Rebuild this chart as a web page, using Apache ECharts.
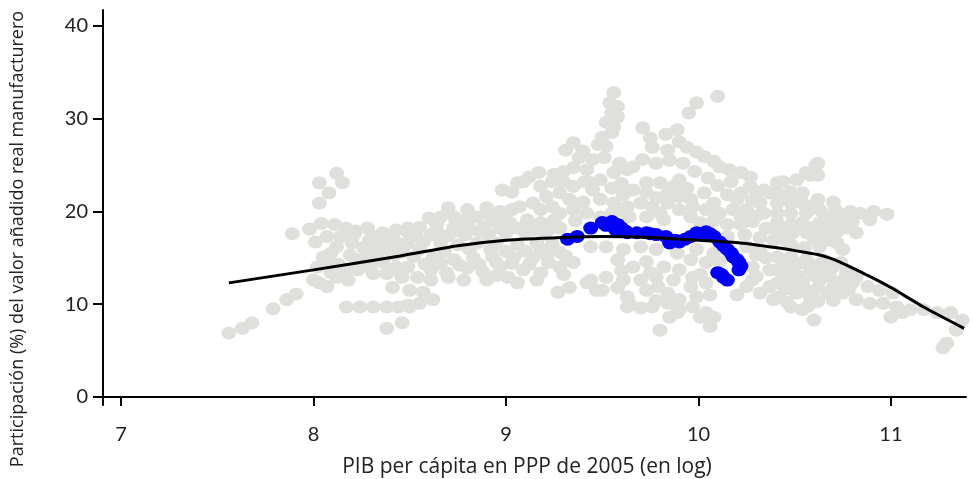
<!DOCTYPE html>
<html>
<head>
<meta charset="utf-8">
<script src="https://cdn.jsdelivr.net/npm/echarts@6/dist/echarts.min.js"></script>
<style>
    html, body { margin: 0; padding: 0; background: #fff; }
    #chart { width: 973px; height: 479px; }
</style>
</head>
<body>
<div id="chart"></div>
<script>
// tick labels
var xTicks = [7, 8, 9, 10, 11];
var yTicks = [0, 10, 20, 30, 40];

// todos los países (gris)
var greyPoints = [
    [7.56, 6.9], [7.63, 7.4], [7.68, 8.0], [7.79, 9.5], [7.86, 10.5], [7.91, 11.1], [8.00, 12.6], [8.03, 12.3], [8.07, 11.9],
    [7.89, 17.6], [7.98, 18.1], [8.04, 18.7], [8.11, 18.6], [8.17, 18.2], [8.28, 18.2], [8.36, 17.7], [8.43, 18.0], [8.49, 17.8],
    [8.01, 16.7], [8.07, 17.3], [8.14, 17.3], [8.21, 17.5], [8.29, 16.9], [8.36, 16.6], [8.43, 16.7],
    [8.03, 23.1], [8.12, 24.1], [8.15, 23.1], [8.08, 22.0], [8.03, 20.9],
    [8.05, 15.1], [8.07, 14.5], [8.19, 15.3], [8.23, 14.8], [8.28, 15.6], [8.33, 16.1], [8.38, 15.9], [8.09, 15.5],
    [8.02, 14.0], [8.09, 13.4], [8.12, 12.9], [8.17, 13.7], [8.23, 13.7], [8.29, 14.0], [8.36, 14.5], [8.43, 14.0], [8.46, 12.9], [8.41, 11.8],
    [8.17, 9.7], [8.24, 9.7], [8.31, 9.7], [8.38, 9.7], [8.44, 9.7], [8.50, 9.7], [8.38, 7.4], [8.46, 8.0],
    [8.12, 16.2], [8.20, 16.6], [8.26, 16.1], [8.32, 17.3], [8.40, 17.3], [8.47, 16.2], [8.13, 14.3], [8.26, 14.5], [8.33, 15.0],
    [8.42, 15.3], [8.46, 15.6], [8.22, 17.9], [8.31, 13.3], [8.38, 13.3], [8.44, 13.6], [8.18, 12.6],
    [9.35, 27.4], [9.31, 26.6], [9.38, 25.8], [9.45, 25.6], [9.30, 24.3], [9.35, 24.7], [9.42, 24.5], [9.17, 24.2], [9.09, 23.2], [9.03, 22.1],
    [9.18, 22.7], [9.24, 23.2], [9.30, 23.2], [9.35, 22.7], [9.41, 23.2], [9.45, 22.3], [9.21, 21.6], [9.28, 22.0], [9.33, 21.3], [9.40, 21.0],
    [9.07, 20.5], [9.14, 20.9], [9.18, 20.2], [9.24, 20.5], [9.28, 19.8], [9.35, 20.2], [9.42, 19.8],
    [8.70, 20.4], [8.80, 20.2], [8.90, 20.4], [8.97, 20.0], [9.03, 20.2], [8.98, 22.3], [9.06, 23.1], [9.12, 23.7],
    [8.60, 19.3], [8.66, 19.4], [8.73, 19.4], [8.79, 19.1], [8.85, 19.4], [8.92, 19.4], [9.00, 19.1],
    [8.49, 18.2], [8.55, 18.3], [8.64, 18.6], [8.73, 18.3], [8.80, 18.6], [8.88, 18.3], [8.95, 18.8], [9.02, 18.8], [9.11, 19.1], [9.18, 18.8],
    [9.27, 18.3], [9.14, 18.0], [9.28, 18.2], [9.36, 19.0], [9.25, 19.1],
    [8.53, 17.4], [8.61, 17.5], [8.70, 17.4], [8.79, 17.5], [8.91, 17.5], [9.00, 17.7], [9.10, 17.7], [9.20, 17.5],
    [8.64, 17.9], [8.76, 17.9], [8.86, 17.9], [8.97, 18.2], [9.06, 18.2], [9.22, 18.0],
    [8.49, 16.6], [8.57, 16.7], [8.66, 16.6], [8.75, 16.4], [8.85, 16.6], [8.95, 16.6], [9.06, 16.4], [9.16, 16.6], [9.24, 16.4], [9.44, 16.2],
    [8.55, 15.9], [8.68, 15.7], [8.81, 15.9], [8.92, 15.9], [9.00, 15.7], [9.10, 15.7], [9.18, 15.9], [9.28, 15.6],
    [8.52, 15.1], [8.62, 15.0], [8.73, 14.8], [8.83, 15.0], [8.93, 15.1], [9.04, 15.0], [9.14, 15.0], [9.21, 15.3], [9.31, 15.2],
    [8.58, 14.3], [8.66, 14.4], [8.76, 14.2], [8.86, 14.3], [8.95, 14.5], [9.03, 14.4], [9.12, 14.3], [9.22, 14.5], [9.35, 14.5],
    [8.49, 14.0], [8.61, 13.7], [8.69, 13.4], [8.80, 13.9], [8.88, 13.5], [8.97, 14.0], [9.09, 13.7], [9.18, 13.4], [9.28, 14.0],
    [8.90, 12.6], [9.01, 12.9], [9.06, 12.3], [9.16, 12.6], [8.54, 12.9], [8.61, 12.6], [8.78, 12.6], [8.70, 12.9], [8.95, 13.1], [9.30, 13.2],
    [9.27, 11.3], [9.33, 11.8], [9.42, 12.3], [9.47, 11.5], [8.57, 11.3], [8.62, 10.5], [8.55, 10.1], [8.49, 9.9], [8.50, 11.5],
    [9.56, 32.8], [9.54, 31.7], [9.58, 31.3], [9.55, 30.6], [9.58, 30.2], [9.52, 29.6], [9.56, 29.1], [9.55, 28.5], [9.50, 28.0], [9.52, 27.0], [9.48, 27.2],
    [10.10, 32.4], [9.99, 31.7], [9.95, 30.6],
    [9.71, 29.0], [9.75, 27.9], [9.83, 28.3], [9.89, 28.8], [9.90, 27.5], [9.76, 26.9], [9.84, 26.6], [9.94, 26.9], [9.99, 26.4],
    [10.03, 25.9], [10.08, 25.4], [10.11, 24.8], [10.16, 24.5], [10.22, 24.2], [10.27, 23.7], [9.40, 26.5], [9.25, 24.0],
    [9.71, 25.6], [9.66, 24.8], [9.59, 25.2], [9.51, 25.8], [9.56, 24.2], [9.63, 24.5], [9.49, 23.4], [9.44, 23.1],
    [9.90, 23.4], [9.94, 22.5], [9.87, 22.7], [9.80, 23.1], [9.73, 23.1], [9.66, 22.3], [9.61, 21.8], [9.73, 22.0], [9.84, 22.0], [9.90, 21.6],
    [9.55, 22.5], [9.60, 23.0], [9.78, 21.5], [9.96, 21.3], [10.03, 22.0], [10.10, 22.8], [10.17, 23.2], [10.05, 23.6], [9.98, 24.3],
    [9.92, 25.2], [9.85, 25.5], [9.78, 25.2],
    [10.27, 22.7], [10.22, 22.0], [10.15, 21.8], [10.08, 20.9], [10.11, 19.8], [10.20, 21.3], [10.25, 20.2], [10.32, 20.9], [10.37, 22.0], [10.41, 23.1], [10.34, 22.3],
    [10.30, 22.0], [10.28, 21.2], [10.18, 20.2], [10.22, 19.4], [10.30, 19.5],
    [9.49, 21.3], [9.56, 20.9], [9.63, 20.5], [9.70, 20.9], [9.76, 20.5], [9.84, 20.9], [9.90, 20.2], [9.97, 20.5], [10.04, 20.2],
    [9.49, 19.4], [9.64, 19.4], [9.73, 19.4], [9.82, 19.1], [9.96, 19.4], [10.01, 18.8], [9.55, 19.8], [9.60, 20.1], [9.80, 19.8], [10.08, 19.0],
    [10.15, 18.6], [10.22, 18.6], [10.28, 18.9], [10.35, 18.2], [10.15, 17.3], [10.24, 17.5], [10.32, 17.2],
    [9.52, 16.2], [9.61, 15.9], [9.70, 16.2], [9.78, 15.9], [9.89, 15.5], [9.99, 15.9], [10.08, 15.5], [10.25, 16.2], [10.32, 15.9], [10.39, 16.9],
    [9.58, 14.8], [9.66, 14.0], [9.73, 14.6], [9.82, 14.0], [9.96, 14.8], [10.04, 14.5], [10.11, 14.6], [10.28, 14.0], [10.37, 13.7],
    [10.30, 15.3], [10.46, 14.0], [10.01, 13.2], [9.60, 13.6], [9.75, 13.4], [9.90, 13.7], [10.30, 13.0],
    [9.44, 12.6], [9.52, 12.9], [9.61, 12.6], [9.70, 12.6], [9.78, 12.9], [9.87, 12.6], [9.97, 12.9], [10.04, 12.3], [10.28, 12.6], [10.37, 11.9],
    [9.50, 11.5], [9.63, 10.8], [9.73, 11.5], [9.84, 11.2], [9.90, 10.5], [9.99, 10.8], [9.96, 11.9], [10.32, 11.2], [10.39, 10.5],
    [10.25, 11.9], [10.20, 11.0], [9.58, 11.8], [9.79, 11.9], [10.06, 11.0], [9.78, 10.4],
    [9.70, 9.6], [9.76, 9.7], [9.63, 9.7], [9.84, 10.1], [9.90, 9.4], [9.97, 9.7], [10.04, 9.1], [10.08, 8.6], [9.85, 8.6], [10.01, 8.6],
    [9.64, 10.1], [9.89, 9.1], [9.80, 7.2], [10.06, 7.6],
    [10.61, 25.0], [10.58, 23.9], [10.51, 23.4], [10.44, 23.2], [10.62, 25.2], [10.56, 24.2], [10.62, 23.9],
    [10.41, 22.0], [10.48, 22.1], [10.54, 22.0], [10.41, 20.9], [10.48, 20.9], [10.54, 20.9], [10.62, 21.3], [10.70, 21.0],
    [10.45, 21.5], [10.52, 21.5], [10.58, 20.5], [10.66, 19.5], [10.75, 19.6],
    [10.41, 19.8], [10.48, 19.8], [10.56, 19.8], [10.63, 20.2], [10.71, 20.2], [10.79, 20.0], [10.84, 19.8], [10.91, 20.0], [10.98, 19.7],
    [10.41, 18.8], [10.48, 18.6], [10.54, 18.8], [10.63, 18.8], [10.72, 19.1], [10.80, 18.9], [10.89, 19.1],
    [10.45, 18.2], [10.52, 18.2], [10.60, 18.3], [10.68, 18.2], [10.76, 18.2],
    [10.65, 17.7], [10.72, 17.8], [10.82, 17.7], [10.41, 17.7], [10.49, 17.7], [10.56, 17.7],
    [10.45, 16.9], [10.60, 17.0], [10.68, 16.9],
    [10.72, 16.6], [10.75, 15.9], [10.63, 16.2], [10.48, 16.4], [10.55, 16.1], [10.34, 19.8], [10.35, 15.0],
    [10.41, 15.1], [10.48, 15.1], [10.56, 14.8], [10.65, 14.8], [10.74, 14.5],
    [10.45, 14.4], [10.52, 14.4], [10.62, 14.2], [10.70, 14.0],
    [10.41, 13.7], [10.49, 13.7], [10.58, 13.7], [10.67, 13.7], [10.77, 13.4], [10.82, 12.9],
    [10.45, 13.0], [10.52, 13.0], [10.60, 13.1], [10.68, 13.0], [10.76, 12.8],
    [10.41, 12.3], [10.48, 12.3], [10.54, 12.3], [10.63, 12.6], [10.72, 12.3], [10.80, 12.3], [10.88, 11.9], [10.94, 11.5], [11.01, 11.2],
    [10.45, 11.6], [10.55, 11.7], [10.62, 11.7], [10.70, 11.8], [10.78, 11.6],
    [10.42, 10.8], [10.51, 11.2], [10.58, 10.8], [10.67, 11.2], [10.75, 11.2], [10.82, 10.5], [10.89, 10.1], [10.96, 10.1], [11.03, 9.7],
    [10.46, 10.2], [10.62, 10.3], [10.70, 10.4], [10.48, 9.7], [10.57, 9.8],
    [11.10, 9.4], [11.17, 9.4], [11.24, 9.1], [11.31, 9.1], [11.37, 8.3], [10.54, 9.4], [10.60, 8.3], [11.00, 8.6], [11.06, 9.1],
    [11.34, 7.2], [11.29, 5.8], [11.27, 5.3]
];

// país destacado (azul)
var bluePoints = [
    [9.32, 17.0], [9.37, 17.3], [9.44, 18.2], [9.50, 18.8], [9.52, 18.5], [9.55, 18.9], [9.58, 18.6], [9.57, 18.0], [9.60, 18.2], [9.62, 17.9],
    [9.63, 17.7], [9.68, 17.7], [9.73, 17.7], [9.75, 17.6], [9.78, 17.5], [9.83, 17.3], [9.85, 16.6], [9.88, 16.9], [9.90, 16.7], [9.93, 17.0],
    [9.96, 17.3], [9.99, 17.7], [10.02, 17.5], [10.04, 17.8], [10.06, 17.6], [10.08, 17.3], [10.11, 16.7], [10.13, 16.3], [10.15, 15.9],
    [10.17, 15.5], [10.18, 15.1], [10.20, 14.8], [10.21, 14.5], [10.22, 14.1], [10.21, 13.7],
    [10.10, 13.4], [10.12, 13.2], [10.13, 12.9], [10.15, 12.6]
];

// curva ajustada
var fitLine = [
    [7.56, 12.3], [8.0, 13.7], [8.45, 15.2], [8.75, 16.3], [9.0, 16.9], [9.3, 17.2], [9.5, 17.3], [9.75, 17.2],
    [10.0, 16.9], [10.22, 16.6], [10.4, 16.1], [10.55, 15.6], [10.63, 15.3], [10.68, 15.0], [10.73, 14.6],
    [10.78, 14.1], [10.84, 13.5], [10.9, 12.9], [11.0, 11.8], [11.17, 9.7], [11.38, 7.4]
];

var myChart = echarts.init(document.getElementById('chart'));

var option = {
    animation: false,
    grid: { left: 103, right: 7, top: 10, bottom: 74 },
    xAxis: {
        type: 'value',
        min: 6.906,
        max: 11.39,
        splitLine: { show: false },
        axisLine: { lineStyle: { color: '#000', width: 2 } },
        axisTick: { customValues: xTicks, length: 9, lineStyle: { color: '#000', width: 2 } },
        axisLabel: {
            customValues: xTicks,
            margin: 20,
            fontFamily: 'Lato',
            fontSize: 20,
            color: '#222'
        }
    },
    yAxis: {
        type: 'value',
        min: -0.86,
        max: 41.7,
        splitLine: { show: false },
        axisLine: { show: true, lineStyle: { color: '#000', width: 2 } },
        axisTick: { show: true, customValues: yTicks, length: 10, lineStyle: { color: '#000', width: 2 } },
        axisLabel: {
            customValues: yTicks,
            margin: 15,
            fontFamily: 'Lato',
            fontSize: 20,
            color: '#222'
        }
    },
    graphic: [
        {
            type: 'text',
            x: 18,
            y: 239,
            rotation: Math.PI / 2,
            style: {
                text: 'Participación (%) del valor añadido real manufacturero',
                fontFamily: 'Open Sans',
                fontSize: 18,
                fill: '#222',
                textAlign: 'center',
                textVerticalAlign: 'middle'
            }
        },
        {
            type: 'text',
            x: 527,
            y: 467,
            style: {
                text: 'PIB per cápita en PPP de 2005 (en log)',
                fontFamily: 'Open Sans',
                fontSize: 21,
                fill: '#222',
                textAlign: 'center',
                textVerticalAlign: 'middle'
            }
        }
    ],
    series: [
        {
            type: 'scatter',
            data: greyPoints,
            symbolSize: [15, 13],
            itemStyle: { color: '#dfe0dc', opacity: 1 },
            silent: true
        },
        {
            type: 'scatter',
            data: bluePoints,
            symbolSize: [15, 13],
            itemStyle: { color: '#0000f5', opacity: 1 },
            silent: true
        },
        {
            type: 'line',
            data: fitLine,
            smooth: 0.25,
            showSymbol: false,
            symbol: 'none',
            lineStyle: { color: '#000', width: 3 },
            silent: true
        }
    ]
};

myChart.setOption(option);
</script>
</body>
</html>
